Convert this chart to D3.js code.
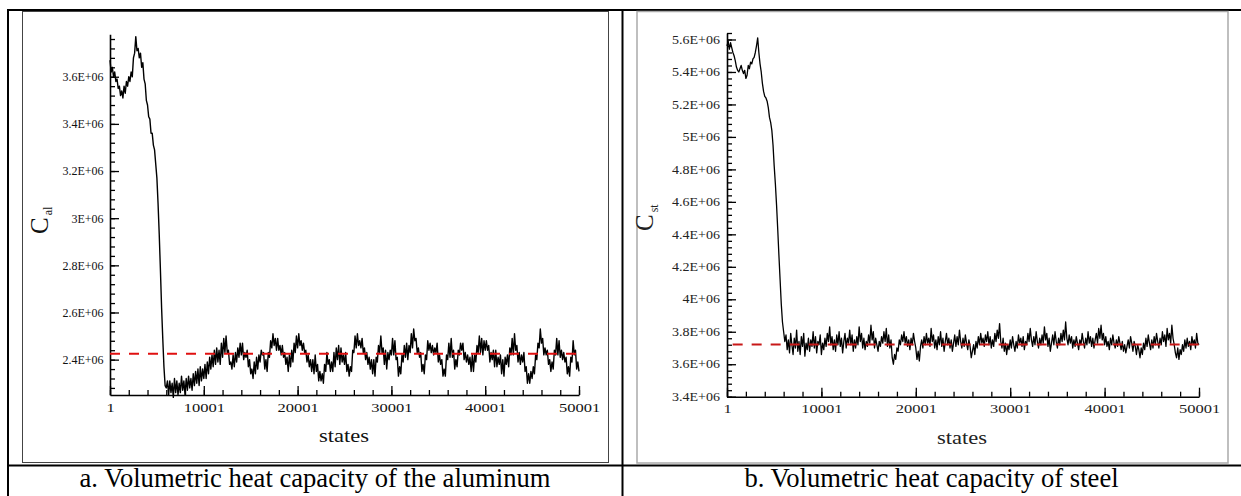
<!DOCTYPE html>
<html>
<head>
<meta charset="utf-8">
<script src="https://cdn.jsdelivr.net/npm/d3@7/dist/d3.min.js"></script>
<style>
  body { margin: 0; background: #fff; }
  svg { display: block; font-family: "Liberation Serif", "Times New Roman", serif; }
</style>
</head>
<body>
<svg id="chart" width="1241" height="496"></svg>
<script>
// states are sampled every 125 steps, 1 .. 50001
var stateStep = 125;
var xTickValues = [1, 10001, 20001, 30001, 40001, 50001];

// volumetric heat capacity of aluminum, in units of 1E+06
var alValues = [
  3.67, 3.62, 3.64, 3.60, 3.62, 3.58, 3.59, 3.55, 3.56, 3.52,
  3.54, 3.51, 3.56, 3.53, 3.58, 3.56, 3.60, 3.58, 3.62, 3.60,
  3.68, 3.70, 3.77, 3.71, 3.72, 3.68, 3.70, 3.64, 3.66, 3.59,
  3.57, 3.50, 3.48, 3.43, 3.42, 3.36, 3.36, 3.31, 3.29, 3.23,
  3.17, 3.06, 2.93, 2.78, 2.62, 2.49, 2.37, 2.29, 2.28, 2.31,
  2.25, 2.31, 2.26, 2.30, 2.24, 2.32, 2.26, 2.31, 2.25, 2.30,
  2.26, 2.33, 2.27, 2.31, 2.25, 2.32, 2.27, 2.33, 2.28, 2.32,
  2.27, 2.34, 2.29, 2.35, 2.30, 2.36, 2.29, 2.37, 2.31, 2.36,
  2.32, 2.38, 2.32, 2.39, 2.34, 2.41, 2.36, 2.42, 2.37, 2.44,
  2.38, 2.45, 2.39, 2.44, 2.38, 2.47, 2.41, 2.49, 2.43, 2.50,
  2.43, 2.44, 2.38, 2.39, 2.36, 2.42, 2.37, 2.43, 2.39, 2.45,
  2.41, 2.47, 2.42, 2.47, 2.40, 2.43, 2.41, 2.44, 2.37, 2.40,
  2.34, 2.36, 2.32, 2.39, 2.34, 2.41, 2.36, 2.42, 2.39, 2.44,
  2.42, 2.43, 2.36, 2.40, 2.35, 2.43, 2.41, 2.48, 2.45, 2.51,
  2.46, 2.49, 2.44, 2.49, 2.44, 2.46, 2.42, 2.46, 2.41, 2.43,
  2.38, 2.41, 2.35, 2.42, 2.37, 2.44, 2.39, 2.47, 2.43, 2.50,
  2.45, 2.51, 2.46, 2.48, 2.44, 2.47, 2.43, 2.44, 2.39, 2.42,
  2.37, 2.40, 2.35, 2.40, 2.34, 2.42, 2.35, 2.38, 2.31, 2.35,
  2.31, 2.34, 2.30, 2.38, 2.35, 2.43, 2.38, 2.40, 2.35, 2.39,
  2.35, 2.43, 2.37, 2.45, 2.40, 2.46, 2.38, 2.45, 2.39, 2.42,
  2.38, 2.43, 2.35, 2.38, 2.33, 2.37, 2.35, 2.44, 2.43, 2.50,
  2.45, 2.51, 2.46, 2.48, 2.45, 2.49, 2.43, 2.45, 2.40, 2.43,
  2.38, 2.41, 2.36, 2.40, 2.34, 2.40, 2.33, 2.41, 2.39, 2.46,
  2.43, 2.50, 2.43, 2.45, 2.38, 2.44, 2.36, 2.43, 2.40, 2.44,
  2.42, 2.49, 2.42, 2.48, 2.40, 2.41, 2.33, 2.37, 2.34, 2.42,
  2.39, 2.46, 2.41, 2.47, 2.40, 2.46, 2.43, 2.51, 2.45, 2.53,
  2.48, 2.49, 2.43, 2.45, 2.41, 2.43, 2.35, 2.38, 2.34, 2.42,
  2.40, 2.48, 2.44, 2.47, 2.43, 2.46, 2.42, 2.45, 2.43, 2.47,
  2.39, 2.42, 2.38, 2.40, 2.33, 2.36, 2.33, 2.42, 2.40, 2.47,
  2.41, 2.49, 2.41, 2.44, 2.36, 2.40, 2.37, 2.44, 2.42, 2.47,
  2.44, 2.47, 2.40, 2.43, 2.39, 2.42, 2.38, 2.41, 2.35, 2.42,
  2.35, 2.42, 2.39, 2.46, 2.43, 2.50, 2.43, 2.49, 2.42, 2.48,
  2.44, 2.48, 2.44, 2.46, 2.39, 2.43, 2.40, 2.44, 2.37, 2.44,
  2.37, 2.41, 2.38, 2.42, 2.34, 2.40, 2.33, 2.41, 2.38, 2.42,
  2.37, 2.45, 2.42, 2.49, 2.42, 2.51, 2.44, 2.46, 2.39, 2.43,
  2.38, 2.42, 2.39, 2.43, 2.35, 2.37, 2.30, 2.34, 2.30, 2.35,
  2.32, 2.37, 2.34, 2.42, 2.40, 2.47, 2.45, 2.53, 2.47, 2.49,
  2.42, 2.45, 2.42, 2.44, 2.38, 2.40, 2.35, 2.39, 2.36, 2.44,
  2.42, 2.49, 2.42, 2.48, 2.41, 2.44, 2.40, 2.43, 2.39, 2.41,
  2.34, 2.37, 2.33, 2.41, 2.39, 2.48, 2.42, 2.44, 2.36, 2.39,
  2.35
];
var alMean = 2.425;
var alTicks = [2.4, 2.6, 2.8, 3.0, 3.2, 3.4, 3.6];

// volumetric heat capacity of steel, in units of 1E+06
var stValues = [
  5.56, 5.59, 5.54, 5.58, 5.55, 5.52, 5.50, 5.47, 5.43, 5.41,
  5.40, 5.42, 5.44, 5.41, 5.39, 5.41, 5.36, 5.38, 5.44, 5.42,
  5.46, 5.45, 5.48, 5.49, 5.52, 5.56, 5.61, 5.52, 5.45, 5.40,
  5.33, 5.28, 5.25, 5.24, 5.22, 5.18, 5.12, 5.09, 5.04, 4.95,
  4.82, 4.71, 4.58, 4.43, 4.27, 4.12, 3.97, 3.86, 3.80, 3.74,
  3.78, 3.69, 3.75, 3.67, 3.79, 3.72, 3.66, 3.76, 3.70, 3.81,
  3.68, 3.74, 3.66, 3.77, 3.71, 3.79, 3.65, 3.73, 3.69, 3.76,
  3.68, 3.75, 3.71, 3.80, 3.70, 3.77, 3.67, 3.74, 3.72, 3.78,
  3.66, 3.73, 3.69, 3.76, 3.71, 3.79, 3.74, 3.83, 3.72, 3.77,
  3.69, 3.75, 3.68, 3.78, 3.72, 3.80, 3.71, 3.76, 3.67, 3.74,
  3.79, 3.70, 3.76, 3.73, 3.81, 3.72, 3.78, 3.68, 3.75, 3.70,
  3.77, 3.72, 3.83, 3.74, 3.79, 3.70, 3.76, 3.69, 3.74, 3.71,
  3.78, 3.73, 3.84, 3.75, 3.80, 3.70, 3.76, 3.72, 3.68, 3.74,
  3.71, 3.77, 3.73, 3.80, 3.74, 3.82, 3.71, 3.78, 3.70, 3.75,
  3.64, 3.60, 3.66, 3.63, 3.70, 3.68, 3.75, 3.72, 3.78, 3.74,
  3.80, 3.73, 3.77, 3.71, 3.75, 3.69, 3.76, 3.72, 3.79, 3.74,
  3.70, 3.63, 3.68, 3.62, 3.71, 3.75, 3.70, 3.77, 3.72, 3.79,
  3.73, 3.76, 3.71, 3.82, 3.74, 3.78, 3.70, 3.75, 3.69, 3.77,
  3.72, 3.80, 3.71, 3.76, 3.68, 3.74, 3.79, 3.72, 3.76, 3.70,
  3.75, 3.68, 3.73, 3.78, 3.71, 3.77, 3.72, 3.81, 3.74, 3.70,
  3.76, 3.71, 3.78, 3.73, 3.69, 3.75, 3.71, 3.64, 3.68, 3.72,
  3.66, 3.74, 3.70, 3.77, 3.72, 3.79, 3.73, 3.76, 3.71, 3.78,
  3.74, 3.80, 3.72, 3.77, 3.70, 3.75, 3.71, 3.79, 3.74, 3.81,
  3.76, 3.85, 3.74, 3.70, 3.76, 3.68, 3.73, 3.66, 3.72, 3.69,
  3.75, 3.70, 3.77, 3.72, 3.68, 3.74, 3.70, 3.78, 3.73, 3.76,
  3.71, 3.77, 3.69, 3.74, 3.72, 3.79, 3.74, 3.82, 3.75, 3.71,
  3.77, 3.72, 3.80, 3.74, 3.70, 3.76, 3.72, 3.78, 3.73, 3.83,
  3.75, 3.79, 3.71, 3.76, 3.68, 3.73, 3.78, 3.72, 3.80, 3.74,
  3.70, 3.76, 3.72, 3.79, 3.74, 3.81, 3.75, 3.86, 3.76, 3.72,
  3.78, 3.73, 3.77, 3.70, 3.75, 3.71, 3.77, 3.73, 3.69, 3.75,
  3.72, 3.79, 3.74, 3.70, 3.76, 3.72, 3.80, 3.73, 3.77, 3.71,
  3.76, 3.70, 3.75, 3.79, 3.73, 3.82, 3.76, 3.84, 3.75, 3.79,
  3.72, 3.77, 3.71, 3.74, 3.69, 3.76, 3.72, 3.78, 3.73, 3.70,
  3.75, 3.71, 3.77, 3.73, 3.69, 3.74, 3.68, 3.72, 3.67, 3.71,
  3.75, 3.70, 3.77, 3.73, 3.68, 3.74, 3.71, 3.66, 3.72, 3.69,
  3.64, 3.70, 3.66, 3.73, 3.69, 3.76, 3.71, 3.78, 3.73, 3.69,
  3.75, 3.70, 3.77, 3.72, 3.79, 3.74, 3.70, 3.76, 3.72, 3.80,
  3.74, 3.78, 3.71, 3.82, 3.75, 3.79, 3.73, 3.84, 3.76, 3.72,
  3.67, 3.64, 3.70, 3.63, 3.69, 3.66, 3.72, 3.68, 3.75, 3.70,
  3.76, 3.71, 3.74, 3.69, 3.77, 3.72, 3.75, 3.70, 3.79, 3.73,
  3.72
];
var stMean = 3.722;
var stTicks = [3.4, 3.6, 3.8, 4.0, 4.2, 4.4, 4.6, 4.8, 5.0, 5.2, 5.4, 5.6];

var captions = [
  'a. Volumetric heat capacity of the aluminum',
  'b. Volumetric heat capacity of steel'
];

var serif = '"Liberation Serif", "Times New Roman", serif';
var svg = d3.select('#chart');

function sciLabel(v) {
  return (+v.toFixed(1)) + 'E+06';
}

function toPoints(values) {
  return values.map(function(v, i) {
    return { state: 1 + i * stateStep, value: v };
  });
}

// table borders
function drawTable() {
  var lines = [
    [7, 10, 1241, 10],
    [8, 9, 8, 496],
    [622.5, 9, 622.5, 496],
    [7, 465.5, 1241, 465.5]
  ];
  svg.selectAll('line.border').data(lines).enter()
    .append('line').attr('class', 'border')
    .attr('x1', function(d) { return d[0]; })
    .attr('y1', function(d) { return d[1]; })
    .attr('x2', function(d) { return d[2]; })
    .attr('y2', function(d) { return d[3]; })
    .attr('stroke', '#000').attr('stroke-width', 2);
}

function drawPanel(opts) {
  var g = svg.append('g');

  g.append('rect')
    .attr('x', opts.frame[0]).attr('y', opts.frame[1])
    .attr('width', opts.frame[2] - opts.frame[0])
    .attr('height', opts.frame[3] - opts.frame[1])
    .attr('fill', 'none').attr('stroke', opts.frameColor)
    .attr('stroke-width', opts.frameWidth);

  var x = d3.scaleLinear().domain([1, 50001]).range([opts.left, opts.right]);
  var y = d3.scaleLinear().domain(opts.yDomain).range([opts.bottom, opts.top]);

  var minorY = d3.range(opts.minorY[0], opts.minorY[1] + 1).map(function(k) { return k * 0.04; });
  var minorX = d3.range(0, 26).map(function(k) { return 1 + k * 2000; });

  // minor ticks (inward)
  g.append('g').attr('transform', 'translate(' + opts.left + ',0)')
    .call(d3.axisLeft(y).tickValues(minorY).tickSizeInner(-5).tickSizeOuter(0).tickFormat(''))
    .call(function(a) { a.select('.domain').remove(); });
  g.append('g').attr('transform', 'translate(0,' + opts.bottom + ')')
    .call(d3.axisBottom(x).tickValues(minorX).tickSizeInner(-5).tickSizeOuter(0).tickFormat(''))
    .call(function(a) { a.select('.domain').remove(); });

  // major y axis
  var yAxis = g.append('g').attr('transform', 'translate(' + opts.left + ',0)')
    .call(d3.axisLeft(y).tickValues(opts.yTicks).tickSizeInner(-9).tickSizeOuter(0)
      .tickPadding(opts.yPad).tickFormat(sciLabel));
  yAxis.attr('font-family', serif);
  yAxis.selectAll('text')
    .attr('x', 0)
    .attr('transform', 'translate(' + (-opts.yPad) + ',0) scale(' + opts.yStretch + ',1)')
    .attr('font-size', opts.yFont).attr('fill', opts.textColor);

  // major x axis
  var xAxis = g.append('g').attr('transform', 'translate(0,' + opts.bottom + ')')
    .call(d3.axisBottom(x).tickValues(xTickValues).tickSizeInner(-9).tickSizeOuter(0)
      .tickFormat(d3.format('d')));
  xAxis.attr('font-family', serif);
  xAxis.selectAll('text')
    .attr('y', opts.xLabelY).attr('dy', 0)
    .attr('transform', 'scale(1.27,1)')
    .attr('font-size', 13).attr('fill', opts.textColor);

  g.selectAll('.domain').attr('stroke-width', 1.6);
  g.selectAll('.tick line').attr('stroke-width', 1.3);

  // data line
  var line = d3.line()
    .x(function(d) { return x(d.state); })
    .y(function(d) { return y(d.value); });

  g.append('path').datum(toPoints(opts.values))
    .attr('d', line)
    .attr('fill', 'none').attr('stroke', '#000')
    .attr('stroke-width', opts.lineWidth).attr('stroke-linejoin', 'round');

  // mean (dashed red)
  g.append('line')
    .attr('x1', x(opts.meanStart)).attr('x2', x(50001))
    .attr('y1', y(opts.mean)).attr('y2', y(opts.mean))
    .attr('stroke', opts.meanColor).attr('stroke-width', 2)
    .attr('stroke-dasharray', '10,9');

  // x axis title
  g.append('text')
    .attr('transform', 'translate(' + opts.statesX + ',' + opts.statesY + ') scale(1.25,1)')
    .attr('text-anchor', 'middle').attr('font-size', 18).attr('fill', opts.textColor)
    .attr('font-family', serif)
    .text('states');

  // y axis title, rotated C with subscript
  var yt = g.append('text')
    .attr('transform', 'translate(' + opts.cX + ',' + opts.cY + ') rotate(-90)')
    .attr('font-family', serif)
    .attr('fill', opts.textColor);
  yt.append('tspan').attr('font-size', 25).text('C');
  yt.append('tspan').attr('font-size', 12).attr('dx', 2).attr('dy', opts.subDy).text(opts.sub);

  // caption
  svg.append('text')
    .attr('x', opts.captionX).attr('y', 486.5)
    .attr('text-anchor', 'middle').attr('font-size', 26.6).attr('fill', '#000')
    .attr('font-family', serif)
    .text(opts.caption);
}

drawTable();

drawPanel({
  values: alValues, mean: alMean, yTicks: alTicks, yDomain: [2.25, 3.78], minorY: [57, 94],
  left: 110, right: 579, top: 34.3, bottom: 395,
  frame: [22.5, 11.5, 608.5, 462.5], frameColor: '#444', frameWidth: 1,
  yPad: 6.5, yFont: 12, yStretch: 1.0, xLabelY: 17, textColor: '#111',
  meanStart: 1, meanColor: '#e01010', lineWidth: 1.4,
  statesX: 344, statesY: 442, cX: 48, cY: 234, sub: 'al', subDy: 4,
  caption: captions[0], captionX: 315
});

drawPanel({
  values: stValues, mean: stMean, yTicks: stTicks, yDomain: [3.4, 5.64], minorY: [85, 141],
  left: 727, right: 1199, top: 33, bottom: 396.7,
  frame: [637, 11.5, 1228, 463], frameColor: '#aaa', frameWidth: 1.5,
  yPad: 7, yFont: 11.5, yStretch: 1.22, xLabelY: 16.5, textColor: '#222',
  meanStart: 600, meanColor: '#c81818', lineWidth: 1.3,
  statesX: 962, statesY: 444, cX: 653, cY: 231, sub: 'st', subDy: 5,
  caption: captions[1], captionX: 931.5
});
</script>
</body>
</html>
